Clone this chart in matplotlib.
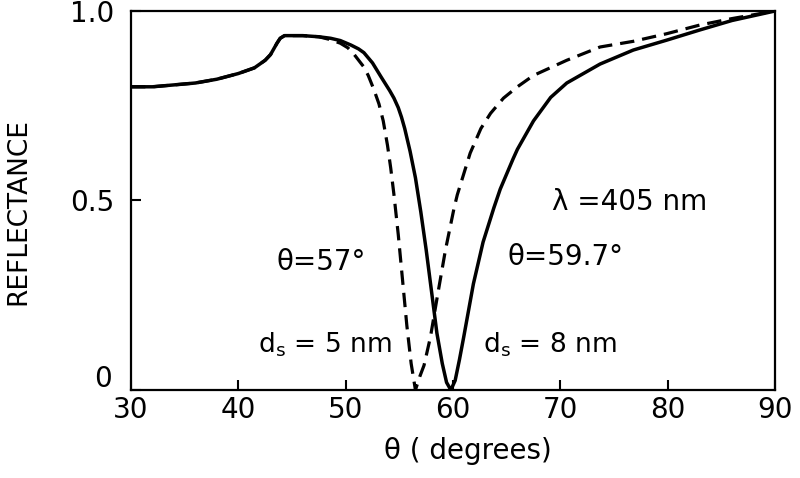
import matplotlib.pyplot as plt

# part shared by both curves (below the critical angle)
theta_common = [30, 32, 34, 36, 38, 40, 41.5, 42.5, 43.0, 43.3, 43.6, 43.9, 44.3, 46, 47.5]
r_common = [0.80, 0.80, 0.805, 0.81, 0.82, 0.835, 0.85, 0.87, 0.885, 0.90, 0.915, 0.928, 0.935, 0.935, 0.932]

# d_s = 8 nm (solid)
theta_8 = [48.6, 49.5, 50.5, 51.2, 51.7, 52.5, 53.3, 54.1, 54.5, 54.9, 55.2, 55.5, 56.0,
           56.5, 57.0, 57.5, 58.0, 58.5, 59.0, 59.4, 59.8, 60.2, 60.6, 61.0, 61.9, 62.8,
           63.8, 64.4, 65.6, 66.0, 67.5, 69.1, 70.6, 73.7, 76.8, 79.9, 83.0, 86.0, 90.0]
r_8 = [0.928, 0.922, 0.91, 0.90, 0.89, 0.863, 0.826, 0.79, 0.77, 0.745, 0.72, 0.69, 0.63,
       0.56, 0.47, 0.37, 0.26, 0.15, 0.07, 0.02, 0.0, 0.025, 0.08, 0.14, 0.28, 0.39,
       0.48, 0.53, 0.61, 0.635, 0.71, 0.772, 0.81, 0.86, 0.897, 0.923, 0.95, 0.975, 1.0]

# d_s = 5 nm (dashed)
theta_5 = [48.5, 49.5, 50.2, 50.8, 51.7, 52.1, 52.6, 53.1, 53.5, 53.9, 54.2, 54.5, 54.9,
           55.3, 55.7, 56.1, 56.5, 56.9, 57.3, 57.9, 58.5, 59.3, 60.1, 60.4, 61.0, 61.6,
           62.6, 63.5, 64.7, 66.0, 67.5, 70.6, 73.7, 76.8, 79.9, 83.0, 86.0, 90.0]
r_5 = [0.925, 0.915, 0.903, 0.885, 0.852, 0.83, 0.795, 0.755, 0.71, 0.645, 0.585, 0.515, 0.41,
       0.29, 0.17, 0.07, 0.0, 0.035, 0.065, 0.14, 0.24, 0.37, 0.48, 0.515, 0.57, 0.625,
       0.69, 0.73, 0.77, 0.80, 0.83, 0.87, 0.905, 0.92, 0.94, 0.963, 0.98, 1.0]

xticks = [30, 40, 50, 60, 70, 80, 90]
yticks = [0, 0.5, 1.0]
ytick_labels = ['', '0.5', '1.0']

fig = plt.figure(figsize=(8, 4.78), dpi=100)
ax = fig.add_axes([0.16375, 0.1841, 0.805, 0.7929])

ax.plot(theta_common + theta_8, r_common + r_8, color='black', lw=2.5)
ax.plot(theta_common + theta_5, r_common + r_5, color='black', lw=2.3,
        linestyle=(0, (4.5, 2.5)))

ax.set_xlim(30, 90)
ax.set_ylim(0, 1.0)
ax.set_xticks(xticks)
ax.set_yticks(yticks)
ax.set_yticklabels(ytick_labels)
ax.tick_params(direction='in', length=7, width=1.5, labelsize=20)
ax.tick_params(axis='x', pad=4)
ax.tick_params(axis='y', pad=12)
for s in ax.spines.values():
    s.set_linewidth(1.6)

# the zero label sits a little above the axis in the original
ax.text(-0.03, 0.03, '0', transform=ax.transAxes, ha='right', va='center', fontsize=20)

ax.set_ylabel('REFLECTANCE', fontsize=19)
ax.yaxis.set_label_coords(-0.155, 0.47)
ax.set_xlabel('θ ( degrees)', fontsize=20)
ax.xaxis.set_label_coords(0.523, -0.125)

ax.text(69.2, 0.496, 'λ =405 nm', fontsize=20, va='center')
ax.text(65.1, 0.351, 'θ=59.7°', fontsize=20, va='center')
ax.text(43.6, 0.338, 'θ=57°', fontsize=20, va='center')
ax.text(41.8, 0.119, 'd$_\\mathregular{s}$ = 5 nm', fontsize=19, va='center')
ax.text(62.8, 0.119, 'd$_\\mathregular{s}$ = 8 nm', fontsize=19, va='center')

plt.savefig('out.png', dpi=100)
